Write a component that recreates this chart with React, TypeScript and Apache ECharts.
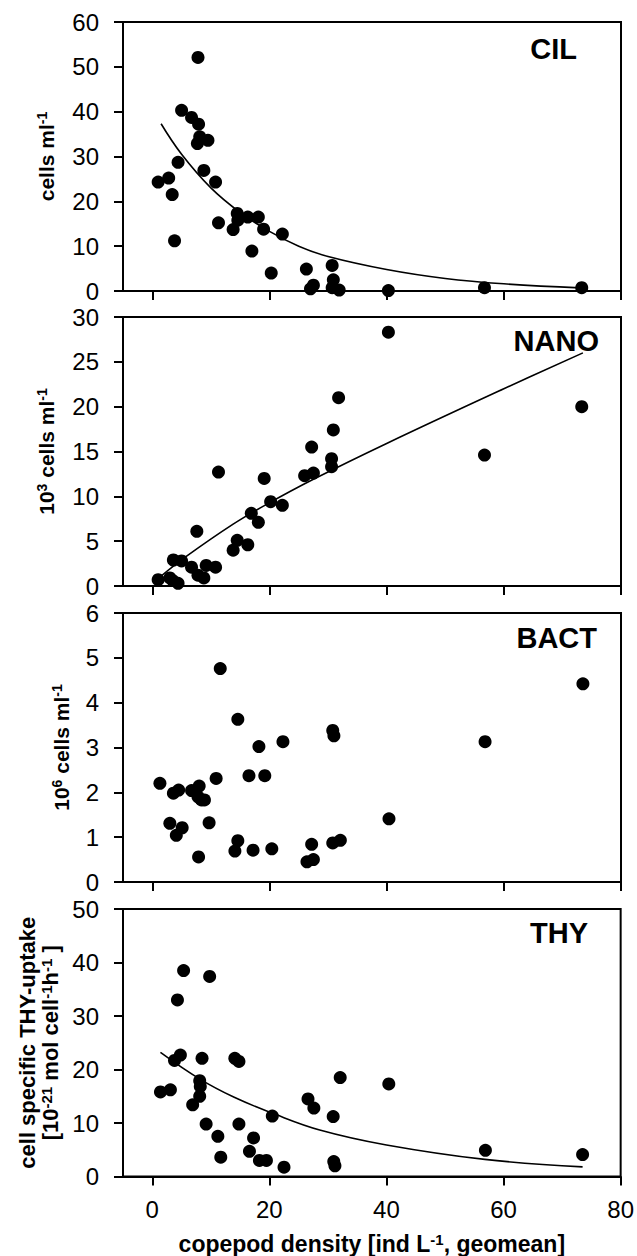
import React, { useEffect, useRef } from "react";
import * as echarts from "echarts";

const W = 637;
const H = 1256;
const FONT = "'Liberation Sans', Arial, sans-serif";

// shared x axis
const xTicks = [0, 20, 40, 60, 80];
const xMin = -5;
const xMax = 80;

// CIL panel
const cilTicks = [0, 10, 20, 30, 40, 50, 60];
const cilX = [1.0, 2.8, 3.4, 3.8, 4.4, 5.0, 6.7, 7.8, 7.9, 8.1, 7.7, 9.5, 8.8, 10.8, 11.3, 13.8, 14.5, 14.6, 16.3, 18.1, 17.0, 19.0, 20.3, 22.2, 26.3, 27.5, 27.0, 30.7, 30.9, 30.7, 31.9, 40.3, 56.7, 73.3];
const cilY = [24.3, 25.2, 21.5, 11.2, 28.7, 40.3, 38.7, 52.1, 37.2, 34.4, 32.9, 33.6, 26.9, 24.3, 15.2, 13.7, 17.3, 15.8, 16.5, 16.5, 8.9, 13.8, 4.0, 12.7, 4.9, 1.3, 0.5, 5.7, 2.5, 0.75, 0.2, 0.1, 0.75, 0.75];
const cilFitX = [1.5, 5, 10, 15, 20, 25, 30, 40, 50, 60, 73];
const cilFitY = [37.3, 30.5, 23, 17.5, 13.3, 10, 7.7, 4.8, 2.8, 1.6, 0.7];

// NANO panel
const nanoTicks = [0, 5, 10, 15, 20, 25, 30];
const nanoX = [1.0, 3.0, 3.5, 4.4, 3.6, 5.0, 6.7, 7.6, 7.8, 8.8, 9.2, 10.8, 11.3, 13.8, 14.5, 16.3, 16.9, 18.1, 19.1, 20.2, 22.2, 26.0, 27.2, 27.5, 30.6, 30.6, 30.9, 31.8, 40.3, 56.7, 73.3];
const nanoY = [0.7, 0.9, 0.6, 0.3, 2.9, 2.8, 2.1, 6.1, 1.2, 0.9, 2.3, 2.1, 12.7, 4.0, 5.1, 4.6, 8.1, 7.1, 12.0, 9.4, 9.0, 12.3, 15.5, 12.6, 14.2, 13.3, 17.4, 21.0, 28.3, 14.6, 20.0];
const nanoFitX = [1.3, 5.8, 13.8, 19.5, 27.5, 40, 60, 73.5];
const nanoFitY = [1.0, 3.3, 6.9, 9.1, 11.9, 15.9, 22.0, 26.0];

// BACT panel
const bactTicks = [0, 1, 2, 3, 4, 5, 6];
const bactX = [1.3, 3.0, 3.6, 4.5, 4.1, 5.1, 6.7, 8.0, 7.8, 8.4, 8.9, 7.9, 9.7, 10.9, 11.6, 14.1, 14.6, 14.6, 16.5, 17.2, 18.2, 19.2, 20.4, 22.3, 26.4, 27.5, 27.2, 30.8, 32.1, 30.8, 31.0, 40.4, 56.8, 73.5];
const bactY = [2.2, 1.31, 1.98, 2.05, 1.04, 1.21, 2.04, 2.14, 1.9, 1.83, 1.83, 0.56, 1.32, 2.31, 4.76, 0.69, 0.92, 3.63, 2.37, 0.71, 3.02, 2.37, 0.74, 3.13, 0.45, 0.5, 0.84, 0.87, 0.93, 3.38, 3.26, 1.41, 3.13, 4.42];

// THY panel
const thyTicks = [0, 10, 20, 30, 40, 50];
const thyX = [1.4, 3.1, 4.3, 3.8, 4.8, 5.35, 6.9, 8.1, 8.2, 8.1, 8.5, 9.2, 9.8, 11.2, 11.7, 14.1, 14.8, 14.8, 16.6, 17.3, 18.3, 19.5, 20.5, 22.5, 26.6, 27.6, 30.9, 31.0, 31.2, 32.1, 40.4, 56.9, 73.5];
const thyY = [15.8, 16.2, 33.0, 21.7, 22.7, 38.5, 13.4, 15.0, 16.8, 17.9, 22.1, 9.8, 37.4, 7.5, 3.6, 22.1, 21.5, 9.8, 4.7, 7.2, 3.0, 3.0, 11.3, 1.75, 14.5, 12.8, 11.2, 2.8, 2.0, 18.5, 17.3, 4.9, 4.1];
const thyFitX = [1.4, 8, 14, 20.6, 28.6, 40, 56.8, 73.5];
const thyFitY = [23.2, 18.3, 14.8, 11.8, 8.7, 5.9, 3.2, 1.8];

const panelLabels = ["CIL", "NANO", "BACT", "THY"];
const yNames = [
  "{b|cells ml}{s|-1}",
  "{b|10}{s|3}{b| cells ml}{s|-1}",
  "{b|10}{s|6}{b| cells ml}{s|-1}",
  "{b|cell specific THY-uptake}\n{b|[10}{s|-21}{b| mol cell}{s|-1}{b|h}{s|-1}{b| ]}",
];
const xName = "{b|copepod density [ind L}{s|-1}{b|, geomean]}";

const zip = (xs: number[], ys: number[]) => xs.map((x, i) => [x, ys[i]]);

const rich = (size: number, lh: number) => ({
  b: { fontSize: size, fontWeight: "bold", fontFamily: FONT, color: "#000", lineHeight: lh },
  s: {
    fontSize: Math.round(size * 0.66),
    fontWeight: "bold",
    fontFamily: FONT,
    color: "#000",
    verticalAlign: "top",
    lineHeight: Math.round(size * 0.34),
  },
});

const grids = [
  { top: 22, height: 269 },
  { top: 317, height: 269 },
  { top: 613, height: 269 },
  { top: 909, height: 268 },
];
const yTicksList = [cilTicks, nanoTicks, bactTicks, thyTicks];
const yNameGaps = [66, 66, 51, 60];
const yNameSizes = [21, 21, 21, 22];
const labelPos = [
  { x: 577, y: 49 },
  { x: 599, y: 341 },
  { x: 597, y: 638 },
  { x: 588, y: 933 },
];

function buildOption() {
  const axisLine = { show: true, onZero: false, lineStyle: { color: "#000", width: 2 } };
  const xAxis = grids.map((_, i) => ({
    type: "value",
    gridIndex: i,
    min: xMin,
    max: xMax,
    axisLine,
    splitLine: { show: false },
    axisTick: {
      show: true,
      inside: false,
      length: 9,
      lineStyle: { color: "#000", width: 2 },
      customValues: xTicks,
    },
    axisLabel: {
      show: i === 3,
      customValues: xTicks,
      fontSize: 24,
      fontFamily: FONT,
      color: "#000",
      margin: 21,
    },
    ...(i === 3
      ? {
          name: xName,
          nameLocation: "middle",
          nameGap: 55,
          nameTextStyle: { rich: rich(23, 24) },
        }
      : {}),
  }));
  const yAxis = grids.map((_, i) => {
    const t = yTicksList[i];
    return {
      type: "value",
      gridIndex: i,
      min: t[0],
      max: t[t.length - 1],
      interval: t[1] - t[0],
      axisLine,
      splitLine: { show: false },
      axisTick: { show: true, inside: false, length: 9, lineStyle: { color: "#000", width: 2 } },
      axisLabel: { fontSize: 24, fontFamily: FONT, color: "#000", margin: 24 },
      name: yNames[i],
      nameLocation: "middle",
      nameGap: yNameGaps[i],
      nameTextStyle: { rich: rich(yNameSizes[i], yNameSizes[i] + 1), align: "center" },
    };
  });
  const scatter = (xs: number[], ys: number[], i: number) => ({
    type: "scatter",
    xAxisIndex: i,
    yAxisIndex: i,
    data: zip(xs, ys),
    symbol: "circle",
    symbolSize: 13,
    itemStyle: { color: "#000", opacity: 1 },
    z: 3,
  });
  const fit = (xs: number[], ys: number[], i: number) => ({
    type: "line",
    xAxisIndex: i,
    yAxisIndex: i,
    data: zip(xs, ys),
    showSymbol: false,
    symbol: "none",
    smooth: 0.4,
    lineStyle: { color: "#000", width: 1.6 },
    z: 2,
  });
  return {
    animation: false,
    backgroundColor: "#fff",
    grid: grids.map((g) => ({
      left: 123,
      width: 498,
      top: g.top,
      height: g.height,
      show: true,
      borderColor: "#000",
      borderWidth: 2,
      backgroundColor: "transparent",
      containLabel: false,
    })),
    xAxis,
    yAxis,
    series: [
      scatter(cilX, cilY, 0),
      fit(cilFitX, cilFitY, 0),
      scatter(nanoX, nanoY, 1),
      fit(nanoFitX, nanoFitY, 1),
      scatter(bactX, bactY, 2),
      scatter(thyX, thyY, 3),
      fit(thyFitX, thyFitY, 3),
    ],
    graphic: panelLabels.map((t, i) => ({
      type: "text",
      x: labelPos[i].x,
      y: labelPos[i].y,
      z: 10,
      style: {
        text: t,
        fill: "#000",
        font: `bold 29px ${FONT}`,
        textAlign: "right",
        textVerticalAlign: "middle",
        align: "right",
        verticalAlign: "middle",
      },
    })),
  };
}

export default function App() {
  const ref = useRef<HTMLDivElement>(null);
  useEffect(() => {
    if (!ref.current) return;
    const chart = echarts.init(ref.current, null, { renderer: "svg", width: W, height: H });
    chart.setOption(buildOption() as any);
    return () => chart.dispose();
  }, []);
  return (
    <div
      ref={ref}
      style={{ position: "absolute", left: 0, top: 0, width: W, height: H, background: "#fff" }}
    />
  );
}
